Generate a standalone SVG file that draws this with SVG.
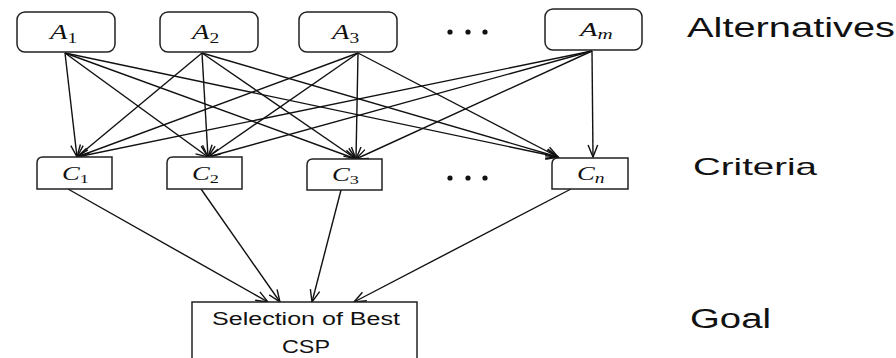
<svg xmlns="http://www.w3.org/2000/svg" width="896" height="358" viewBox="0 0 896 358">
<style>
.box{fill:#fff;stroke:#222;stroke-width:1.5}
.edge{stroke:#111;stroke-width:1.4;fill:none;marker-end:url(#arr)}
.math{font-family:"Liberation Serif","DejaVu Serif",serif;font-style:italic;fill:#111}
.sub{font-style:normal}
.subi{font-style:italic}
.lbl{font-family:"Liberation Sans",Arial,sans-serif;fill:#111}
.dot{fill:#111}
</style>
<defs>
<marker id="arr" viewBox="-13 -6 15 12" refX="0" refY="0" markerWidth="15" markerHeight="12" markerUnits="userSpaceOnUse" orient="auto">
<path d="M-12,-4.8 L0,0 L-12,4.8" fill="none" stroke="#111" stroke-width="1.4"/>
</marker>
</defs>
<rect width="896" height="358" fill="#fff"/>
<g id="connectors">
<line class="edge" x1="65" y1="53" x2="77" y2="157"/>
<line class="edge" x1="65" y1="53" x2="208" y2="157"/>
<line class="edge" x1="65" y1="53" x2="356" y2="159"/>
<line class="edge" x1="65" y1="53" x2="558" y2="157"/>
<line class="edge" x1="202" y1="53" x2="77" y2="157"/>
<line class="edge" x1="202" y1="53" x2="208" y2="157"/>
<line class="edge" x1="202" y1="53" x2="356" y2="159"/>
<line class="edge" x1="202" y1="53" x2="558" y2="157"/>
<line class="edge" x1="358" y1="53" x2="77" y2="157"/>
<line class="edge" x1="358" y1="53" x2="208" y2="157"/>
<line class="edge" x1="358" y1="53" x2="356" y2="159"/>
<line class="edge" x1="358" y1="53" x2="558" y2="157"/>
<line class="edge" x1="592" y1="51" x2="77" y2="157"/>
<line class="edge" x1="592" y1="51" x2="208" y2="157"/>
<line class="edge" x1="592" y1="51" x2="356" y2="159"/>
<line class="edge" x1="592" y1="51" x2="593" y2="157"/>
<line class="edge" x1="68" y1="189" x2="268" y2="302"/>
<line class="edge" x1="201" y1="189" x2="280" y2="302"/>
<line class="edge" x1="341" y1="190" x2="312" y2="302"/>
<line class="edge" x1="571" y1="189" x2="354" y2="302"/>
</g>
<g id="A1">
<rect class="box" x="17" y="12" width="98" height="40" rx="8"/>
<text class="math" font-size="22" transform="translate(50,39) scale(1.3,1)">A<tspan class="sub" font-size="15" dy="4">1</tspan></text>
</g>
<g id="A2">
<rect class="box" x="160" y="12" width="98" height="40" rx="8"/>
<text class="math" font-size="22" transform="translate(192,39) scale(1.3,1)">A<tspan class="sub" font-size="15" dy="4">2</tspan></text>
</g>
<g id="A3">
<rect class="box" x="299" y="12" width="98" height="40" rx="8"/>
<text class="math" font-size="22" transform="translate(332,39) scale(1.3,1)">A<tspan class="sub" font-size="15" dy="4">3</tspan></text>
</g>
<g id="dotsA">
<circle class="dot" cx="450" cy="32" r="2.6"/>
<circle class="dot" cx="468" cy="32" r="2.6"/>
<circle class="dot" cx="485" cy="32" r="2.6"/>
</g>
<g id="Am">
<rect class="box" x="545" y="9" width="97" height="41" rx="8"/>
<text class="math" font-size="19" transform="translate(580,36) scale(1.5,1)">A<tspan class="subi" font-size="14" dy="3">m</tspan></text>
</g>
<g id="C1">
<path class="box" d="M37,189 V163 Q37,157 43,157 H112 V189 Z"/>
<text class="math" font-size="19" transform="translate(62,180) scale(1.4,1)">C<tspan class="sub" font-size="13" dy="3">1</tspan></text>
</g>
<g id="C2">
<path class="box" d="M167,189 V163 Q167,157 173,157 H242 V189 Z"/>
<text class="math" font-size="19" transform="translate(192,180) scale(1.4,1)">C<tspan class="sub" font-size="13" dy="3">2</tspan></text>
</g>
<g id="C3">
<path class="box" d="M307,190 V165 Q307,159 313,159 H382 V190 Z"/>
<text class="math" font-size="19" transform="translate(332,181) scale(1.4,1)">C<tspan class="sub" font-size="13" dy="3">3</tspan></text>
</g>
<g id="dotsC">
<circle class="dot" cx="450" cy="178" r="2.6"/>
<circle class="dot" cx="468" cy="178" r="2.6"/>
<circle class="dot" cx="485" cy="178" r="2.6"/>
</g>
<g id="Cn">
<path class="box" d="M552,189 V164 Q552,158 558,158 H628 V189 Z"/>
<text class="math" font-size="19" transform="translate(577,180) scale(1.4,1)">C<tspan class="subi" font-size="14" dy="3">n</tspan></text>
</g>
<g id="Goal">
<rect class="box" x="192" y="302" width="225" height="70"/>
<text class="lbl" x="212" y="325" font-size="18" textLength="188" lengthAdjust="spacingAndGlyphs">Selection of Best</text>
<text class="lbl" x="282" y="353" font-size="18" textLength="48" lengthAdjust="spacingAndGlyphs">CSP</text>
</g>
<g id="levels">
<text class="lbl" x="687" y="37" font-size="27" textLength="208" lengthAdjust="spacingAndGlyphs">Alternatives</text>
<text class="lbl" x="693" y="175" font-size="24" textLength="124" lengthAdjust="spacingAndGlyphs">Criteria</text>
<text class="lbl" x="690" y="328" font-size="27" textLength="81" lengthAdjust="spacingAndGlyphs">Goal</text>
</g>
</svg>
